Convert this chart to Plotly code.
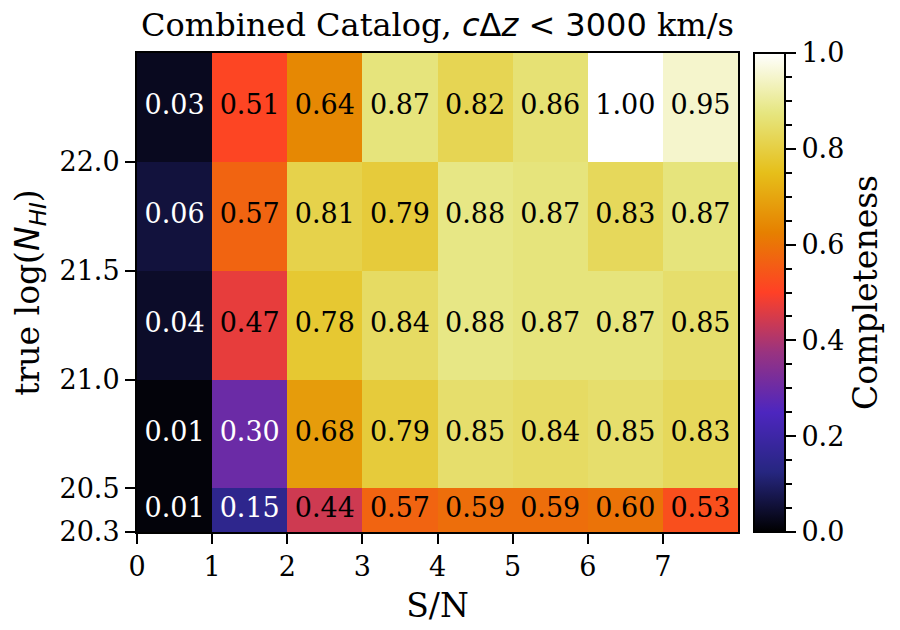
import numpy as np
import plotly.graph_objects as go

# bin edges
sn_edges = [0, 1, 2, 3, 4, 5, 6, 7, 8]
nhi_edges = [20.3, 20.5, 21.0, 21.5, 22.0, 22.5]

# completeness, rows from lowest N_HI bin up
row_203 = [0.01, 0.15, 0.44, 0.57, 0.59, 0.59, 0.60, 0.53]
row_205 = [0.01, 0.30, 0.68, 0.79, 0.85, 0.84, 0.85, 0.83]
row_210 = [0.04, 0.47, 0.78, 0.84, 0.88, 0.87, 0.87, 0.85]
row_215 = [0.06, 0.57, 0.81, 0.79, 0.88, 0.87, 0.83, 0.87]
row_220 = [0.03, 0.51, 0.64, 0.87, 0.82, 0.86, 1.00, 0.95]

y_ticks = [20.3, 20.5, 21.0, 21.5, 22.0]
x_ticks = [0, 1, 2, 3, 4, 5, 6, 7]
cb_ticks = [0.0, 0.2, 0.4, 0.6, 0.8, 1.0]

z = np.array([row_203, row_205, row_210, row_215, row_220])

# matplotlib CMRmap
cmrmap = [
    [0.000, "rgb(0,0,0)"],
    [0.125, "rgb(38,38,128)"],
    [0.250, "rgb(77,38,191)"],
    [0.375, "rgb(153,51,128)"],
    [0.500, "rgb(255,64,38)"],
    [0.625, "rgb(230,128,0)"],
    [0.750, "rgb(230,191,26)"],
    [0.875, "rgb(230,230,128)"],
    [1.000, "rgb(255,255,255)"],
]

serif = "DejaVu Serif"
sans = "DejaVu Sans"

# page has an 8px body margin, so work in shifted pixels
OFF = 8
W, H = 900 - OFF, 630 - OFF
L, R, T, B = 137 - OFF, 785 - OFF, 53 - OFF, 532 - OFF
plot_right = 738 - OFF
cb_left = 754 - OFF

fig = go.Figure()
fig.add_trace(go.Heatmap(
    z=z, x=sn_edges, y=nhi_edges,
    colorscale=cmrmap, zmin=0, zmax=1,
    colorbar=dict(
        thickness=R - cb_left, x=(cb_left - L) / (R - L), xanchor="left",
        xpad=0, y=0.5, yanchor="middle", len=1, ypad=0,
        outlinecolor="black", outlinewidth=2,
        ticks="", showticklabels=False,
    ),
    hoverinfo="skip",
))

# cell labels
xc = (np.array(sn_edges[:-1]) + np.array(sn_edges[1:])) / 2
yc = (np.array(nhi_edges[:-1]) + np.array(nhi_edges[1:])) / 2
tx, ty, tt, tc = [], [], [], []
for i, yy in enumerate(yc):
    for j, xx in enumerate(xc):
        v = z[i, j]
        tx.append(xx)
        ty.append(yy)
        tt.append(f"{v:.2f}")
        tc.append("white" if v < 0.4 else "black")
fig.add_trace(go.Scatter(
    x=tx, y=ty, text=tt, mode="text",
    textfont=dict(family=serif, size=27, color=tc),
    showlegend=False, hoverinfo="skip",
))

# dummy trace for the colorbar tick axis
fig.add_trace(go.Scatter(x=[None], y=[None], yaxis="y2", showlegend=False,
                         hoverinfo="skip"))

tickfont = dict(family=serif, size=27, color="black")
labelfont = dict(family=serif, size=33, color="black")

fig.update_layout(
    width=W, height=H,
    margin=dict(l=L, r=W - R, t=T, b=H - B, pad=0),
    paper_bgcolor="white", plot_bgcolor="white",
    title=dict(
        text=("Combined Catalog, "
              f"<span style=\"font-family:{sans}\"><i>c</i>Δ<i>z</i> &lt; 3000</span>"
              " km/s"),
        font=dict(family=serif, size=32, color="black"),
        x=((L + plot_right) / 2) / W, xanchor="center", xref="container",
        y=1 - 17 / H, yanchor="middle", yref="container",
    ),
    xaxis=dict(
        domain=[0, (plot_right - L) / (R - L)],
        range=[0, 8], tickvals=x_ticks, ticks="outside", ticklen=10,
        tickwidth=2, tickcolor="black", tickfont=tickfont,
        showline=True, linecolor="black", linewidth=2, mirror=True,
        showgrid=False, zeroline=False,
        title=dict(text="S/N", font=labelfont, standoff=12),
    ),
    yaxis=dict(
        range=[20.3, 22.5], tickvals=y_ticks,
        ticktext=[f"{v:.1f}" for v in y_ticks],
        ticks="outside", ticklen=10, tickwidth=2, tickcolor="black",
        tickfont=tickfont,
        showline=True, linecolor="black", linewidth=2, mirror=True,
        showgrid=False, zeroline=False,
        title=dict(
            text=(f"true log(<span style=\"font-family:{sans}\"><i>N</i>"
                  "<sub><i>HI</i></sub></span>)"),
            font=labelfont, standoff=12),
    ),
    yaxis2=dict(
        overlaying="y", anchor="free", position=1.0, side="right",
        range=[0, 1], tickvals=cb_ticks,
        ticktext=[f"{v:.1f}" for v in cb_ticks],
        ticks="outside", ticklen=10, tickwidth=2, tickcolor="black",
        tickfont=tickfont,
        minor=dict(dtick=0.05, ticks="outside", ticklen=6, tickwidth=2,
                   tickcolor="black", showgrid=False),
        showline=False, showgrid=False, zeroline=False,
        title=dict(text="Completeness", font=labelfont, standoff=10),
    ),
)

fig.write_html("out.html")
